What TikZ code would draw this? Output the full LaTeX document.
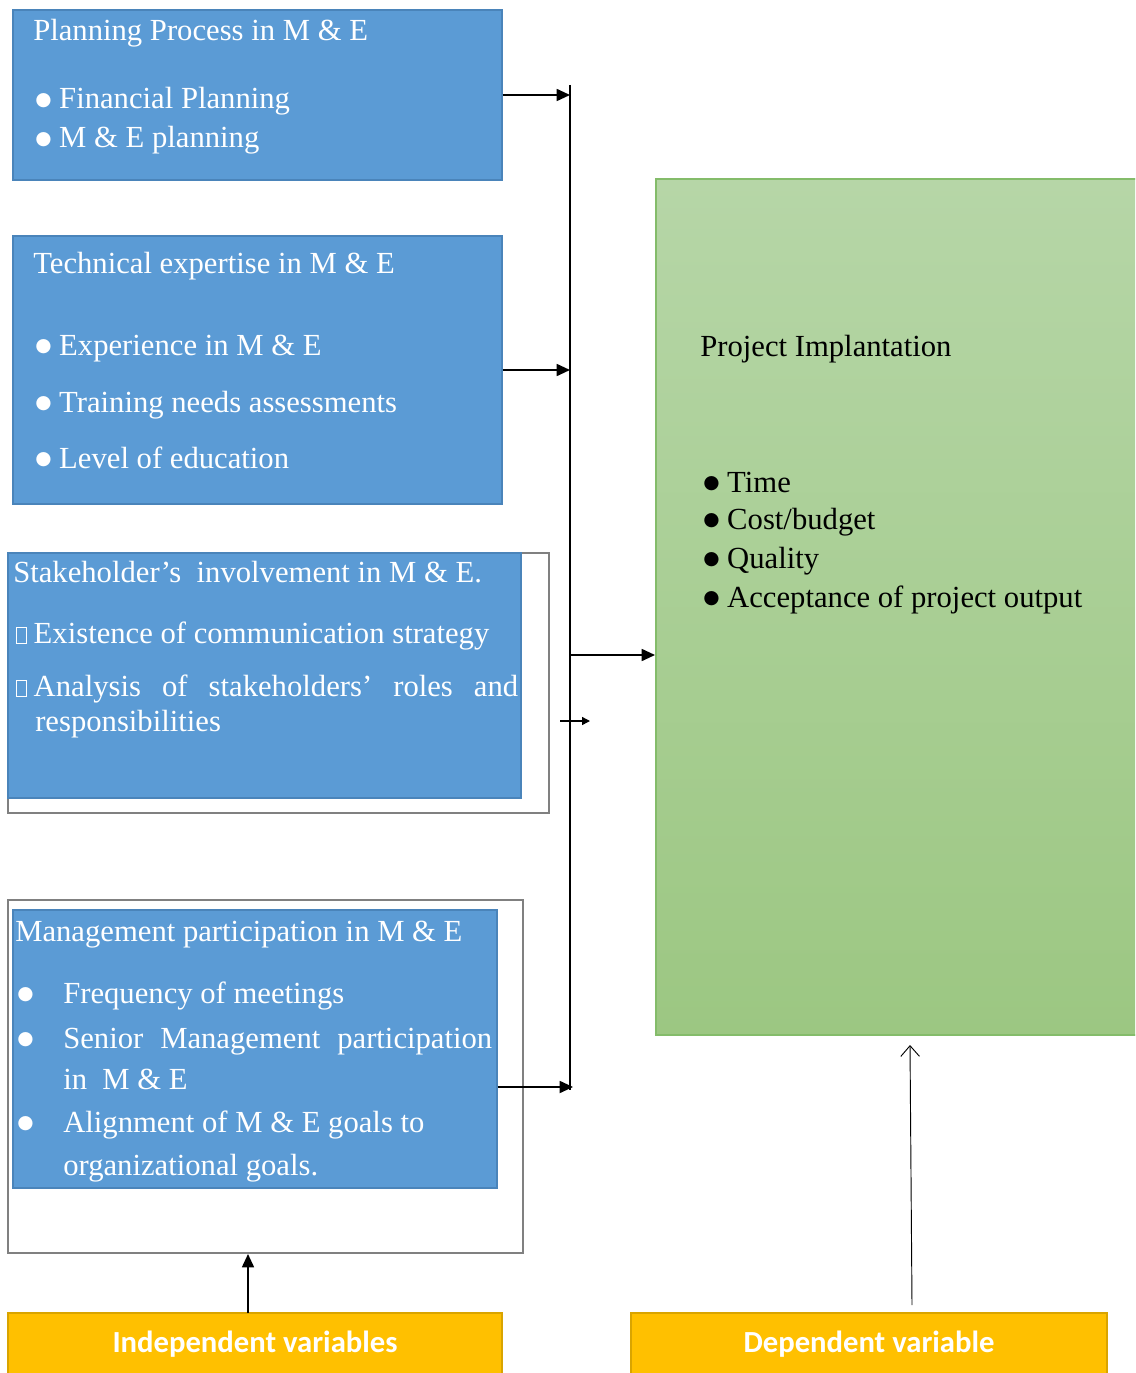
\documentclass[tikz,border=0pt]{standalone}
\usepackage{fontspec}
\setmainfont{Liberation Serif}
\newfontfamily\tagfont{Carlito}
\newfontfamily\symfont{DejaVu Sans}
\usetikzlibrary{arrows.meta,fit}

\definecolor{boxblue}{HTML}{5B9BD5}
\definecolor{boxblueedge}{HTML}{4A84BA}
\definecolor{framegray}{HTML}{808080}
\definecolor{greentop}{HTML}{B6D6A7}
\definecolor{greenbot}{HTML}{9CC782}
\definecolor{greenedge}{HTML}{84BC6A}
\definecolor{tagyellow}{HTML}{FFC000}
\definecolor{tagedge}{HTML}{D9A400}

% empty glyph box as printed in the source
\newcommand{\missingglyph}{{\fboxsep=0pt\fboxrule=0.8pt\fbox{\rule{0pt}{11.5pt}\hspace{6.5pt}}}\hspace{5pt}}
% round bullet
\newcommand{\bulletmark}{\raisebox{2.6pt}{\symfont\fontsize{14}{14}\selectfont ●}}

\tikzset{
    bluebox/.style={fill=boxblue, draw=boxblueedge, line width=1pt, inner sep=0pt},
    framebox/.style={draw=framegray, line width=1.5pt, inner sep=0pt},
    greenbox/.style={top color=greentop, bottom color=greenbot, draw=greenedge, line width=1.5pt, inner sep=0pt},
    tagbox/.style={fill=tagyellow, draw=tagedge, line width=1pt, inner sep=0pt},
    tagtext/.style={text=white, font=\tagfont\bfseries\fontsize{23}{28}\selectfont, inner sep=0pt},
    txt/.style={anchor=base west, inner sep=0pt, text=white, font=\fontsize{23}{28}\selectfont},
    darktxt/.style={txt, text=black},
    feed/.style={-{Triangle[length=10pt,width=9pt]}, line width=1.3pt},
    feedsmall/.style={-{Triangle[length=6pt,width=6pt]}, line width=1.1pt},
    bus/.style={line width=1.3pt},
    thinarrow/.style={-{Straight Barb[length=8pt,width=14pt]}, line width=0.7pt}
}

\begin{document}
\begin{tikzpicture}[x=0.75pt, y=-0.75pt]
\clip (0,0) rectangle (1135,1373);

% boxes
\node[bluebox, fit={(13,10) (502,180)}] (plan) {};
\node[bluebox, fit={(13,236) (502,504)}] (tech) {};
\node[framebox, fit={(8,553) (549,813)}] (stakeframe) {};
\node[bluebox, fit={(8,553) (521,798)}] (stake) {};
\node[framebox, fit={(8,900) (523,1253)}] (mgmtframe) {};
\node[bluebox, fit={(13,910) (497,1188)}] (mgmt) {};
\node[greenbox, fit={(656,179) (1142,1035)}] (impl) {};
\node[tagbox, fit={(8,1313) (502,1380)}] (indep) {};
\node[tagbox, fit={(631,1313) (1107,1380)}] (dep) {};

% texts of the blue boxes
\node[txt] (plan-t) at (33,41) {Planning Process in M \& E};
\node[txt] (plan-1) at (35,109) {\bulletmark\ Financial Planning};
\node[txt] (plan-2) at (35,148) {\bulletmark\ M \& E planning};

\node[txt] (tech-t) at (33,273) {Technical expertise in M \& E};
\node[txt] (tech-1) at (35,355) {\bulletmark\ Experience in M \& E};
\node[txt] (tech-2) at (35,412) {\bulletmark\ Training needs assessments};
\node[txt] (tech-3) at (35,468) {\bulletmark\ Level of education};

\node[txt] (stake-t) at (13,582) {Stakeholder’s\ \ involvement in M \& E.};
\node[txt] (stake-1) at (16,643) {\missingglyph Existence of communication strategy};
\node[txt] (stake-2) at (16,696) {\makebox[376.5pt][s]{\missingglyph Analysis of stakeholders’ roles and}};
\node[txt] (stake-3) at (35,731) {responsibilities};

\node[txt] (mgmt-t) at (15,941) {Management participation in M \& E};
\foreach \y [count=\i] in {1003,1048,1132}
    \node[txt] (mgmt-b\i) at (17,\y) {\bulletmark};
\node[txt] (mgmt-1) at (63,1003) {Frequency of meetings};
\node[txt] (mgmt-2) at (63,1048) {\makebox[321.75pt][s]{Senior Management participation}};
\node[txt] (mgmt-3) at (63,1089) {in\ \ M \& E};
\node[txt] (mgmt-4) at (63,1132) {Alignment of M \& E goals to};
\node[txt] (mgmt-5) at (63,1175) {organizational goals.};

% text of the green box
\node[darktxt] (impl-t) at (700,356) {Project Implantation};
\node[darktxt] (impl-1) at (703,492) {\bulletmark\ Time};
\node[darktxt] (impl-2) at (703,529) {\bulletmark\ Cost/budget};
\node[darktxt] (impl-3) at (703,568) {\bulletmark\ Quality};
\node[darktxt] (impl-4) at (703,607) {\bulletmark\ Acceptance of project output};

% tags
\node[tagtext] (indep-t) at (255,1344) {Independent variables};
\node[tagtext] (dep-t) at (869,1344) {Dependent variable};

% connectors
\coordinate (bus-top) at (570,85);
\coordinate (bus-bot) at (570,1090);
\draw[bus] (bus-top) -- (bus-bot);
\draw[feed] (plan.east) -- (plan.east -| bus-top);
\draw[feed] (tech.east) -- (tech.east -| bus-top);
\coordinate (j-mgmt) at (573,1087);
\draw[feed] (mgmt.east |- j-mgmt) -- (j-mgmt);
\coordinate (j-out) at (570,655);
\draw[feed] (j-out) -- (impl.west |- j-out);
\coordinate (s-a) at (560,721);
\coordinate (s-b) at (590,721);
\draw[feedsmall] (s-a) -- (s-b);
\coordinate (ind-a) at (248,1313);
\draw[feed] (ind-a) -- (ind-a |- mgmtframe.south);
\coordinate (dep-a) at (912,1305);
\coordinate (dep-b) at (910,1045);
\draw[thinarrow] (dep-a) -- (dep-b);
\end{tikzpicture}
\end{document}
